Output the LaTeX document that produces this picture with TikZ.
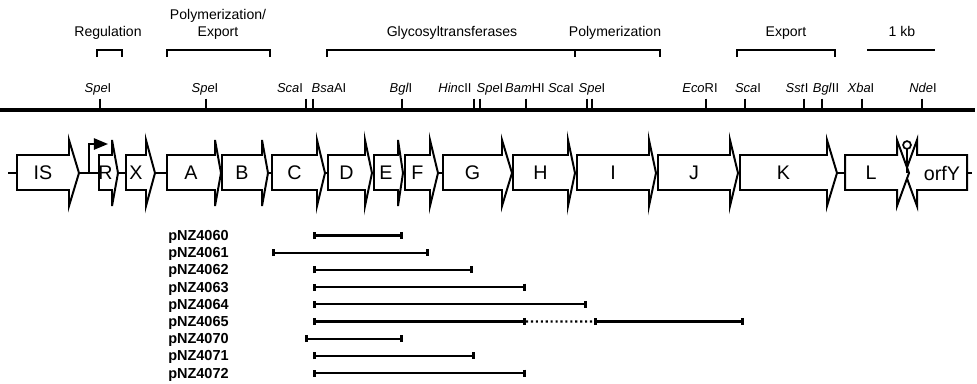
\documentclass[tikz,border=0pt]{standalone}
\usepackage{fontspec}
\setmainfont{Liberation Sans}
\usetikzlibrary{arrows.meta}

\begin{document}
\begin{tikzpicture}[
    x=0.025cm, y=-0.025cm,
    dna/.style={line width=2.2pt, draw=black},
    cut/.style={line width=1.5pt, draw=black},
    brk/.style={line width=1.8pt, draw=black},
    gene/.style={line width=1.4pt, draw=black, fill=white, line join=miter},
    grp/.style={font=\fontsize{10}{12}\selectfont, align=center, inner sep=0pt},
    site/.style={font=\fontsize{9.2}{11}\selectfont, anchor=base, inner sep=0pt},
    genelbl/.style={font=\fontsize{14}{16}\selectfont, inner sep=0pt},
    clonelbl/.style={font=\bfseries\fontsize{10.3}{12}\selectfont, anchor=base west, inner sep=0pt},
    clone/.style={line width=1.5pt, {Bar[width=5pt,line width=2pt]}-{Bar[width=5pt,line width=2pt]}},
]
    \useasboundingbox (0,0) rectangle (977,383);

    % functional regions above the map
    \foreach \a/\b/\x/\txt [count=\i] in {97/122/108/Regulation, 327/575/452/Glycosyltransferases,
        575/660/615/Polymerization, 737/835/786/Export}{
        \draw[brk] (\a,57) -- (\a,50) -- (\b,50) -- (\b,57);
        \node[grp, anchor=south] (grp\i) at (\x,39.5) {\txt};
    }
    \draw[brk] (167,57) -- (167,50) -- (270,50) -- (270,57);
    \node[grp, anchor=south] (grpPE) at (218,39.5) {Polymerization/\\Export};

    % scale bar
    \draw[brk] (867,50) -- (935,50);
    \node[grp, anchor=base] (kb) at (902,36.8) {1 kb};

    % restriction map: tick position / label position / enzyme
    \draw[dna] (0,110) -- (975,110);
    \foreach \t/\lx/\enz [count=\i] in {100/98/{\textit{Spe}I}, 206/205/{\textit{Spe}I}, 306/290/{\textit{Sca}I},
        313/329/{\textit{Bsa}AI}, 402/401/{\textit{Bgl}I}, 474/455/{\textit{Hin}cII}, 480/490/{\textit{Spe}I},
        526/525/{\textit{Bam}HI}, 587/561/{\textit{Sca}I}, 592/592/{\textit{Spe}I}, 706/700/{\textit{Eco}RI},
        745/748/{\textit{Sca}I}, 804/797/{\textit{Sst}I}, 822/826/{\textit{Bgl}II}, 862/861/{\textit{Xba}I},
        922/923/{\textit{Nde}I}}{
        \draw[cut] (\t,98.5) -- (\t,110);
        \node[site] (site\i) at (\lx,92.5) {\enz};
    }

    % gene cluster: box left / barb / tip / name
    \draw[cut] (8,173) -- (972,173);
    \draw[gene] (967,155) -- (917,155) -- (917,140) -- (905,173) -- (917,206) -- (917,190) -- (967,190) -- cycle;
    \node[genelbl] (orfY) at (942,173) {orfY};
    \foreach \l/\s/\t/\g in {17/69/79/IS, 99/112/118/R, 126/146/155/X, 167/215/221/A, 222/262/268/B,
        272/317/325/C, 328/365/372/D, 374/398/403/E, 405/430/438/F, 443/502/512/G, 513/568/575/H,
        577/649/656/I, 658/730/738/J, 740/827/837/K, 845/897/909/L}{
        \draw[gene] (\l,155) -- (\s,155) -- (\s,140) -- (\t,173) -- (\s,206) -- (\s,190) -- (\l,190) -- cycle;
        \node[genelbl] (gene\g) at ({(\l+\s)/2},173) {\g};
    }

    % promoter and terminator
    \draw[line width=1.3pt, -{Triangle[length=10pt,width=8pt]}] (89,173) |- (108,144);
    \draw[line width=1.2pt] (907,173) -- (907,149);
    \draw[line width=1.2pt, fill=white] (907,145) circle (2.8pt);

    % subclones
    \foreach \n/\a/\b [count=\i from 0] in {4060/313/403, 4061/272/429, 4062/313/473, 4063/313/526,
        4064/313/587, 4065/313/526, 4070/305/403, 4071/313/475, 4072/313/526}{
        \node[clonelbl] (p\n) at (168,240.5+17.2*\i) {pNZ\n};
        \coordinate (s\n) at (\a,235.5+17.2*\i);
        \coordinate (e\n) at (\b,235.5+17.2*\i);
        \draw[clone] (s\n) -- (e\n);
    }
    \coordinate (d4065) at (594,321.5);
    \coordinate (f4065) at (744,321.5);
    \draw[line width=1.5pt, dotted] (e4065) -- (d4065);
    \draw[clone] (d4065) -- (f4065);
\end{tikzpicture}
\end{document}
